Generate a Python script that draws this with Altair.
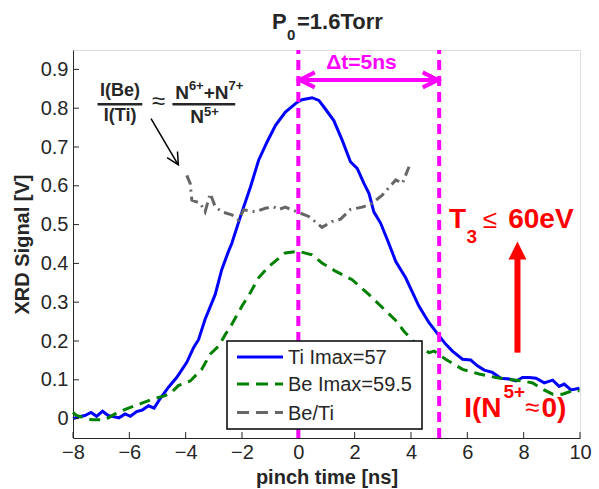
import altair as alt
import pandas as pd

# ---------------- data ----------------
ti_t = [-8.0, -7.82, -7.58, -7.36, -7.16, -6.95, -6.75, -6.57, -6.37, -6.15,
        -5.96, -5.74, -5.54, -5.32, -5.12, -4.91, -4.61, -4.32, -3.96, -3.72,
        -3.54, -3.31, -2.95, -2.72, -2.48, -2.36, -2.06, -1.70, -1.41, -1.11,
        -0.81, -0.46, -0.05, 0.13, 0.49, 0.73, 0.96, 1.26, 1.56, 1.85,
        2.09, 2.33, 2.51, 2.68, 2.92, 3.16, 3.46, 3.81, 4.28, 4.64,
        5.0, 5.23, 5.47, 5.83, 6.12, 6.36, 6.6, 6.89, 7.19, 7.49,
        7.73, 7.96, 8.2, 8.44, 8.73, 9.03, 9.26, 9.44, 9.68, 9.98]
ti_v = [0.0, 0.004, 0.008, 0.016, 0.006, 0.019, 0.008, 0.005, 0.002, 0.012,
        0.006, 0.018, 0.022, 0.033, 0.027, 0.051, 0.081, 0.106, 0.145, 0.183,
        0.204, 0.256, 0.32, 0.384, 0.431, 0.452, 0.52, 0.597, 0.666, 0.713,
        0.756, 0.79, 0.815, 0.822, 0.827, 0.82, 0.798, 0.768, 0.717, 0.662,
        0.645, 0.606, 0.58, 0.533, 0.504, 0.461, 0.405, 0.363, 0.29, 0.247,
        0.213, 0.192, 0.174, 0.153, 0.151, 0.136, 0.125, 0.119, 0.104, 0.102,
        0.097, 0.106, 0.106, 0.104, 0.092, 0.099, 0.083, 0.089, 0.074, 0.078]

be_t = [-8.0, -7.88, -7.34, -6.86, -6.51, -6.1, -5.62, -5.15, -4.73, -4.49,
        -4.26, -3.84, -3.43, -3.13, -2.83, -2.59, -2.36, -2.0, -1.7, -1.41,
        -1.05, -0.46, 0.01, 0.49, 0.84, 1.32, 1.91, 2.5, 3.0, 3.5,
        3.75, 4.2, 4.64, 4.82, 5.23, 5.83, 6.42, 7.01, 7.37, 7.96,
        8.32, 8.67, 9.03, 9.38, 9.74, 9.98]
be_v = [0.016, 0.008, -0.003, -0.003, 0.012, 0.025, 0.038, 0.051, 0.059, 0.068,
        0.085, 0.097, 0.127, 0.166, 0.187, 0.217, 0.243, 0.29, 0.325, 0.363,
        0.392, 0.427, 0.431, 0.422, 0.401, 0.38, 0.358, 0.32, 0.285, 0.25,
        0.225, 0.19, 0.17, 0.174, 0.153, 0.127, 0.115, 0.106, 0.102, 0.097,
        0.092, 0.076, 0.063, 0.063, 0.072, 0.072]

ratio_t = [-3.96, -3.84, -3.78, -3.48, -3.31, -3.13, -2.95, -2.72, -2.36, -2.12,
           -1.94, -1.53, -1.17, -0.88, -0.7, -0.46, -0.05, 0.37, 0.84, 1.2,
           1.5, 1.85, 2.27, 2.62, 2.98, 3.46, 3.69, 3.93]
ratio_v = [0.627, 0.606, 0.563, 0.555, 0.533, 0.58, 0.546, 0.533, 0.525, 0.512,
           0.538, 0.533, 0.542, 0.546, 0.539, 0.545, 0.533, 0.521, 0.493, 0.508,
           0.514, 0.539, 0.545, 0.555, 0.576, 0.615, 0.606, 0.649]

x_ticks = [-8, -6, -4, -2, 0, 2, 4, 6, 8, 10]
y_ticks = [0, 0.1, 0.2, 0.3, 0.4, 0.5, 0.6, 0.7, 0.8, 0.9]
marker_times = [0, 5]
legend_labels = ["Ti Imax=57", "Be Imax=59.5", "Be/Ti"]

# ---------------- style ----------------
W, H = 507, 388
FONT = "Liberation Sans"
DARK = "#262626"
BLUE, GREEN, GRAY = "#0000ff", "#008000", "#666666"
MAG, RED = "#ff00ff", "#ff0000"

xs = alt.Scale(domain=[-8, 10], nice=False, zero=False)
ys = alt.Scale(domain=[-0.05, 0.95], nice=False, zero=False)

X = lambda f="t": alt.X(f"{f}:Q", scale=xs)
Y = lambda f="v": alt.Y(f"{f}:Q", scale=ys)

ti = pd.DataFrame({"t": ti_t, "v": ti_v})
be = pd.DataFrame({"t": be_t, "v": be_v})
ratio = pd.DataFrame({"t": ratio_t, "v": ratio_v})

# main layer with axes
ti_line = alt.Chart(ti).mark_line(color=BLUE, strokeWidth=3).encode(
    x=alt.X("t:Q", scale=xs, axis=alt.Axis(
        values=x_ticks, title="pinch time [ns]", ticks=False, grid=False,
        labelFlush=False, labelOverlap=False, labelPadding=4, titlePadding=5,
        labelFontSize=20, titleFontSize=20, titleFontWeight="bold",
        labelFont=FONT, titleFont=FONT, labelColor=DARK, titleColor=DARK,
        domainColor=DARK)),
    y=alt.Y("v:Q", scale=ys, axis=alt.Axis(
        values=y_ticks, title="XRD Signal [V]", ticks=False, grid=False,
        labelExpr="datum.value == 0 ? '0' : format(datum.value, '.1f')",
        labelFlush=False, labelOverlap=False, labelPadding=5, titlePadding=8,
        labelFontSize=20, titleFontSize=20, titleFontWeight="bold",
        labelFont=FONT, titleFont=FONT, labelColor=DARK, titleColor=DARK,
        domainColor=DARK)),
    order="t:Q",
)
be_line = alt.Chart(be).mark_line(color=GREEN, strokeWidth=3, strokeDash=[11, 7]).encode(
    x=X(), y=Y(), order="t:Q")
ratio_line = alt.Chart(ratio).mark_line(color=GRAY, strokeWidth=3, strokeDash=[10, 5, 2, 5]).encode(
    x=X(), y=Y(), order="t:Q")

# inward tick marks (MATLAB style)
xtick_marks = alt.Chart(pd.DataFrame({"t": x_ticks})).mark_rule(color=DARK, strokeWidth=1).encode(
    x=X(), y=alt.value(H), y2=alt.value(H - 6))
ytick_marks = alt.Chart(pd.DataFrame({"v": y_ticks})).mark_rule(color=DARK, strokeWidth=1).encode(
    y=Y(), x=alt.value(0), x2=alt.value(6))

# magenta dashed markers
markers = alt.Chart(pd.DataFrame({"t": marker_times, "lo": [-0.05, -0.05], "hi": [0.95, 0.95]})).mark_rule(
    color=MAG, strokeWidth=4, strokeDash=[10, 6]).encode(x=X(), y=Y("lo"), y2="hi:Q")

# delta-t double arrow
dt_shaft = alt.Chart(pd.DataFrame({"t": [0], "t2": [5], "v": [0.873]})).mark_rule(
    color=MAG, strokeWidth=4).encode(x=X(), x2="t2:Q", y=Y())
dt_left = alt.Chart(pd.DataFrame({"t": [0.05], "v": [0.873]})).mark_point(
    shape="M2,-1L0,0L2,1", size=225, filled=False, stroke=MAG, strokeWidth=4, opacity=1).encode(x=X(), y=Y())
dt_right = alt.Chart(pd.DataFrame({"t": [4.95], "v": [0.873]})).mark_point(
    shape="M-2,-1L0,0L-2,1", size=225, filled=False, stroke=MAG, strokeWidth=4, opacity=1).encode(x=X(), y=Y())


def texts(rows, size, weight, color, align="left"):
    df = pd.DataFrame(rows, columns=["s", "t", "v"])
    return alt.Chart(df).mark_text(font=FONT, fontSize=size, fontWeight=weight, color=color,
                                   align=align, baseline="alphabetic").encode(
        x=X(), y=Y(), text="s:N")


dt_text = texts([["\u0394t=5ns", 2.24, 0.901]], 21, "bold", MAG, "center")

# formula annotation
f_center = texts([["I(Be)", -6.33, 0.831], ["I(Ti)", -6.33, 0.766]], 18, "bold", DARK, "center")
f_approx = texts([["\u2248", -4.97, 0.797]], 24, "normal", DARK, "center")
f_main = texts([["N", -4.37, 0.825], ["+N", -3.36, 0.825], ["N", -3.84, 0.761]], 19, "bold", DARK)
f_sup = texts([["6+", -3.886, 0.846], ["7+", -2.48, 0.846], ["5+", -3.35, 0.781]], 13, "bold", DARK)
f_bars = alt.Chart(pd.DataFrame({"t": [-7.13, -4.47], "t2": [-5.54, -2.24], "v": [0.81, 0.81]})).mark_rule(
    color=DARK, strokeWidth=2.5).encode(x=X(), x2="t2:Q", y=Y())
bk_shaft = alt.Chart(pd.DataFrame({"t": [-5.23], "t2": [-4.28], "v": [0.773], "v2": [0.656]})).mark_rule(
    color="black", strokeWidth=1.5).encode(x=X(), x2="t2:Q", y=Y(), y2="v2:Q")
bk_head = alt.Chart(pd.DataFrame({"t": [-4.26], "v": [0.654]})).mark_point(
    shape="M-2,-1L0,0L-2,1", size=144, filled=False, stroke="black", strokeWidth=1.5, opacity=1,
    angle=59.7).encode(x=X(), y=Y())

# red annotation
r_big = texts([["T", 5.35, 0.4915], ["60eV", 7.45, 0.4915], ["I(N", 5.89, 0.004], ["0)", 8.63, 0.004]],
              28, "bold", RED)
r_small = texts([["3", 5.97, 0.452], ["5+", 7.28, 0.053]], 19, "bold", RED)
r_sym = texts([["\u2264", 6.55, 0.4915], ["\u2248", 8.05, 0.006]], 26, "normal", RED)
r_shaft = alt.Chart(pd.DataFrame({"t": [7.78], "v": [0.17], "v2": [0.42]})).mark_rule(
    color=RED, strokeWidth=6).encode(x=X(), y=Y(), y2="v2:Q")
r_head = alt.Chart(pd.DataFrame({"t": [7.78], "v": [0.433]})).mark_point(
    shape="M0,-1L1,1L-1,1Z", size=324, filled=True, color=RED, opacity=1).encode(x=X(), y=Y())

# legend (drawn manually, MATLAB style box)
leg_box = alt.Chart(pd.DataFrame({"a": [0]})).mark_rect(
    fill="white", stroke="black", strokeWidth=1.5).encode(
    x=alt.value(154), x2=alt.value(349), y=alt.value(291), y2=alt.value(379))
leg_rows = [307, 334, 362.5]
leg_styles = [(BLUE, []), (GREEN, [12, 7]), (GRAY, [12, 7])]
leg_lines = []
for (col, dash), yy, lab in zip(leg_styles, leg_rows, legend_labels):
    kw = dict(color=col, strokeWidth=3)
    if dash:
        kw["strokeDash"] = dash
    leg_lines.append(alt.Chart(pd.DataFrame({"a": [0]})).mark_rule(**kw).encode(
        x=alt.value(164), x2=alt.value(210), y=alt.value(yy)))
    leg_lines.append(alt.Chart(pd.DataFrame({"a": [0]})).mark_text(
        text=lab, font=FONT, fontSize=20, color=DARK, align="left", baseline="middle").encode(
        x=alt.value(215), y=alt.value(yy + 1)))

# title P0=1.6Torr
title_parts = [
    alt.Chart(pd.DataFrame({"a": [0]})).mark_text(text="P", font=FONT, fontSize=22, fontWeight="bold",
                                                  color=DARK, align="left", baseline="alphabetic").encode(
        x=alt.value(199), y=alt.value(-21)),
    alt.Chart(pd.DataFrame({"a": [0]})).mark_text(text="0", font=FONT, fontSize=15, fontWeight="bold",
                                                  color=DARK, align="left", baseline="alphabetic").encode(
        x=alt.value(214), y=alt.value(-10)),
    alt.Chart(pd.DataFrame({"a": [0]})).mark_text(text="=1.6Torr", font=FONT, fontSize=22, fontWeight="bold",
                                                  color=DARK, align="left", baseline="alphabetic").encode(
        x=alt.value(224), y=alt.value(-21)),
]

chart = alt.layer(
    ti_line, be_line, ratio_line, xtick_marks, ytick_marks, markers,
    dt_shaft, dt_left, dt_right, dt_text,
    f_center, f_approx, f_main, f_sup, f_bars, bk_shaft, bk_head,
    r_big, r_small, r_sym, r_shaft, r_head,
    leg_box, *leg_lines, *title_parts,
).properties(
    width=W, height=H,
    padding={"left": 73, "top": 50, "right": 19, "bottom": 51},
    autosize=alt.AutoSizeParams(type="none"),
).configure_view(stroke=None).configure(background="white")

chart.save("out.html", embed_options={"renderer": "svg", "actions": False})
